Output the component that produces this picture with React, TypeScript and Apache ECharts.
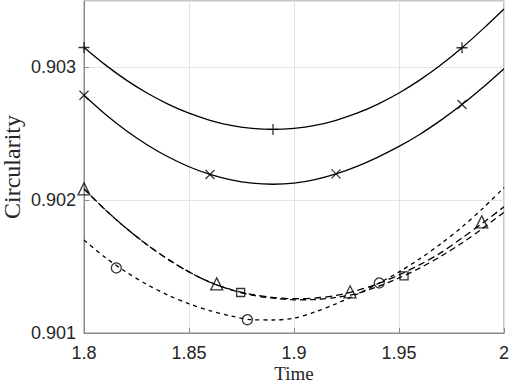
import React, { useEffect, useRef } from "react";
import * as echarts from "echarts";

const time = [1.80, 1.81, 1.82, 1.83, 1.84, 1.85, 1.86, 1.87, 1.88, 1.89, 1.90, 1.91, 1.92, 1.93, 1.94, 1.95, 1.96, 1.97, 1.98, 1.99, 2.00];

const plusLine = [0.90315, 0.903021, 0.902906, 0.902807, 0.902724, 0.902655, 0.902602, 0.902563, 0.902541, 0.902533, 0.902541, 0.902563, 0.902602, 0.902655, 0.902724, 0.902807, 0.902906, 0.90302, 0.903148, 0.90329, 0.90344];
const crossLine = [0.90279, 0.902649, 0.902525, 0.902418, 0.902327, 0.902252, 0.902194, 0.902153, 0.902128, 0.90212, 0.902128, 0.902155, 0.902198, 0.902255, 0.902325, 0.902405, 0.902497, 0.902603, 0.90272, 0.90285, 0.90299];
const triangleLine = [0.902085, 0.90193, 0.90179, 0.901665, 0.901555, 0.90146, 0.901382, 0.901327, 0.90129, 0.901268, 0.901258, 0.901263, 0.901283, 0.90132, 0.901372, 0.901437, 0.901515, 0.901605, 0.901715, 0.90183, 0.90195];
const squareLine = [0.902085, 0.90193, 0.90179, 0.901665, 0.901555, 0.90146, 0.901382, 0.901325, 0.901285, 0.901262, 0.90125, 0.901252, 0.901268, 0.901298, 0.90135, 0.901415, 0.90149, 0.901578, 0.901678, 0.90179, 0.90191];
const circleLine = [0.9017, 0.90157, 0.90146, 0.901365, 0.901285, 0.90122, 0.901168, 0.901128, 0.9011, 0.901098, 0.901112, 0.901158, 0.90122, 0.901292, 0.901372, 0.90146, 0.90156, 0.901673, 0.901798, 0.90194, 0.902095];

const plusMarks = [[1.80, 0.90315], [1.89, 0.902533], [1.98, 0.903148]];
const crossMarks = [[1.80, 0.90279], [1.86, 0.902194], [1.92, 0.902198], [1.98, 0.90272]];
const triangleMarks = [[1.80, 0.902085], [1.8632, 0.90137], [1.9267, 0.90131], [1.9894, 0.901837]];
const squareMarks = [[1.8746, 0.901305], [1.9524, 0.90143]];
const circleMarks = [[1.8154, 0.90149], [1.8778, 0.9011], [1.9406, 0.901377]];

const xTicks = { min: 1.8, max: 2.0, step: 0.05 };
const yTicks = { min: 0.901, max: 0.9035, step: 0.001 };

const pair = (ys: number[]) => time.map((t, i) => [t, ys[i]]);

const PLUS = "path://M5,0L5,10M0,5L10,5";
const CROSS = "path://M0,0L10,10M10,0L0,10";

export default function App() {
  const ref = useRef<HTMLDivElement>(null);
  useEffect(() => {
    if (!ref.current) return;
    const chart = echarts.init(ref.current, undefined, { renderer: "svg" });
    const axisColor = "#8a8a8a";
    const labelColor = "#262626";
    const lineSeries = (ys: number[], dash: any) => ({
      type: "line",
      data: pair(ys),
      smooth: 0.3,
      showSymbol: false,
      symbol: "none",
      lineStyle: { color: "#000", width: 1.3, type: dash },
      z: 2,
    });
    const markSeries = (pts: number[][], symbol: string, size: number) => ({
      type: "scatter",
      data: pts,
      symbol,
      symbolSize: size,
      itemStyle: { color: "none", borderColor: "#000", borderWidth: 1.3 },
      z: 3,
    });
    chart.setOption({
      animation: false,
      grid: {
        left: 84, right: 5, top: 1, bottom: 50,
        containLabel: false, outerBoundsMode: "none",
        show: true, borderColor: axisColor, borderWidth: 1,
      },
      xAxis: {
        type: "value",
        min: xTicks.min,
        max: xTicks.max,
        interval: xTicks.step,
        name: "Time",
        nameLocation: "middle",
        nameGap: 32,
        nameMoveOverlap: false,
        nameTextStyle: { fontFamily: "Liberation Serif", fontSize: 19, lineHeight: 16, color: labelColor },
        axisLine: { show: true, lineStyle: { color: axisColor } },
        axisTick: { show: true, inside: true, length: 5, lineStyle: { color: axisColor } },
        axisLabel: {
          margin: 12,
          lineHeight: 16,
          fontFamily: "Liberation Sans",
          fontSize: 18,
          color: labelColor,
          formatter: (v: number) => String(Number(v.toFixed(2))),
        },
        splitLine: { show: true, lineStyle: { color: "#e3e3e3", width: 1 } },
      },
      yAxis: {
        type: "value",
        min: yTicks.min,
        max: yTicks.max,
        interval: yTicks.step,
        name: "Circularity",
        nameLocation: "middle",
        nameRotate: 90,
        nameGap: 62,
        nameMoveOverlap: false,
        nameTextStyle: { fontFamily: "Liberation Serif", fontSize: 24, lineHeight: 20, color: labelColor },
        axisLine: { show: true, lineStyle: { color: axisColor } },
        axisTick: { show: true, inside: true, length: 5, lineStyle: { color: axisColor } },
        axisLabel: {
          margin: 8,
          fontFamily: "Liberation Sans",
          fontSize: 18,
          color: labelColor,
          showMaxLabel: false,
          formatter: (v: number) => (Math.abs(v * 1000 - Math.round(v * 1000)) < 1e-6 ? v.toFixed(3) : ""),
        },
        splitLine: { show: true, lineStyle: { color: "#e3e3e3", width: 1 } },
      },
      series: [
        lineSeries(plusLine, "solid"),
        lineSeries(crossLine, "solid"),
        lineSeries(triangleLine, [7, 4]),
        lineSeries(squareLine, [6, 4]),
        lineSeries(circleLine, [4, 4]),
        markSeries(plusMarks, PLUS, 11),
        markSeries(crossMarks, CROSS, 9),
        markSeries(triangleMarks, "triangle", 12),
        markSeries(squareMarks, "rect", 8),
        markSeries(circleMarks, "circle", 10),
      ],
    });
    return () => chart.dispose();
  }, []);
  return <div ref={ref} style={{ width: 509, height: 383, position: "absolute", left: 0, top: 0 }} />;
}
